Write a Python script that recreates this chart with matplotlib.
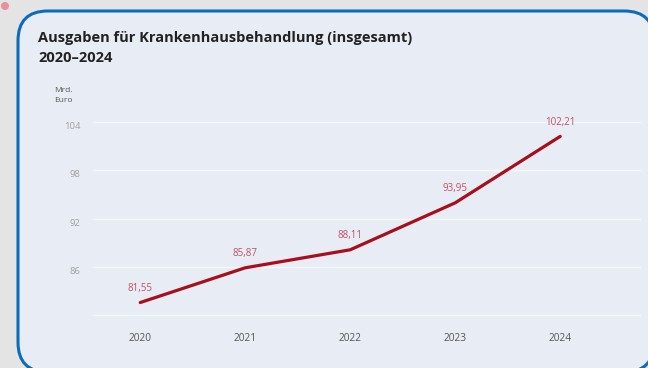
import matplotlib

matplotlib.use("Agg")
import matplotlib.pyplot as plt
from matplotlib.patches import FancyBboxPatch, Ellipse

years = [2020, 2021, 2022, 2023, 2024]
spending = [81.55, 85.87, 88.11, 93.95, 102.21]
value_labels = ["81,55", "85,87", "88,11", "93,95", "102,21"]
y_ticks = [80, 86, 92, 98, 104]
y_tick_labels = ["", "86", "92", "98", "104"]

OUTER = "#e4e4e4"
CARD = "#e8ecf4"
BORDER = "#0a6cbc"
LINE = "#a80f1c"
LABEL = "#c25068"

plt.rcParams["font.family"] = ["Open Sans", "DejaVu Sans"]

W, H = 648, 368
fig = plt.figure(figsize=(W / 100, H / 100), dpi=100)
fig.patch.set_facecolor(OUTER)

# rounded card with blue border
card = FancyBboxPatch((18 / W, 1 - 372 / H), 636 / W, 361 / H,
                      boxstyle="round,pad=0,rounding_size=0.046",
                      transform=fig.transFigure, facecolor=CARD, edgecolor=BORDER,
                      linewidth=2.2, mutation_aspect=W / H, zorder=-5)
fig.patches.append(card)
fig.patches.append(Ellipse((5 / W, 1 - 6 / H), 8 / W, 8 / H, transform=fig.transFigure,
                           facecolor="#e8909e", edgecolor="none", zorder=-4))

fig.text(38 / W, 1 - 38 / H, "Ausgaben für Krankenhausbehandlung (insgesamt)",
         fontsize=10.5, fontweight="bold", color="#222222", va="center", ha="left")
fig.text(38 / W, 1 - 58 / H, "2020–2024", fontsize=10.5, fontweight="bold",
         color="#222222", va="center", ha="left")
fig.text(63 / W, 1 - 95 / H, "Mrd.\nEuro", fontsize=6, color="#555555",
         va="center", ha="center", linespacing=1.6)

ax = fig.add_axes([93 / W, 1 - 315 / H, (640 - 93) / W, (315 - 122) / H])
ax.set_zorder(2)
ax.set_facecolor("none")
ax.set_xlim(2019.55, 2024.76)
ax.set_ylim(80, 104)

for v in y_ticks:
    ax.axhline(v, color="#f6f7fb", lw=1.0, zorder=1, clip_on=False)

ax.plot(years, spending, color=LINE, lw=2.3, solid_capstyle="round", zorder=3)
for x, y, s in zip(years, spending, value_labels):
    ax.annotate(s, (x, y), xytext=(0, 6), textcoords="offset points", ha="center",
                va="bottom", fontsize=7, color=LABEL, annotation_clip=False)

ax.set_xticks(years)
ax.set_xticklabels([str(y) for y in years], fontsize=7.3, color="#555555")
ax.set_yticks(y_ticks)
ax.set_yticklabels(y_tick_labels, fontsize=6.8, color="#a0a0a0")
ax.tick_params(length=0)
ax.tick_params(axis="x", pad=13)
ax.tick_params(axis="y", pad=9)
for lab in ax.get_yticklabels():
    lab.set_va("top")
for s in ax.spines.values():
    s.set_visible(False)

fig.savefig("out.png", dpi=100, facecolor=OUTER)
